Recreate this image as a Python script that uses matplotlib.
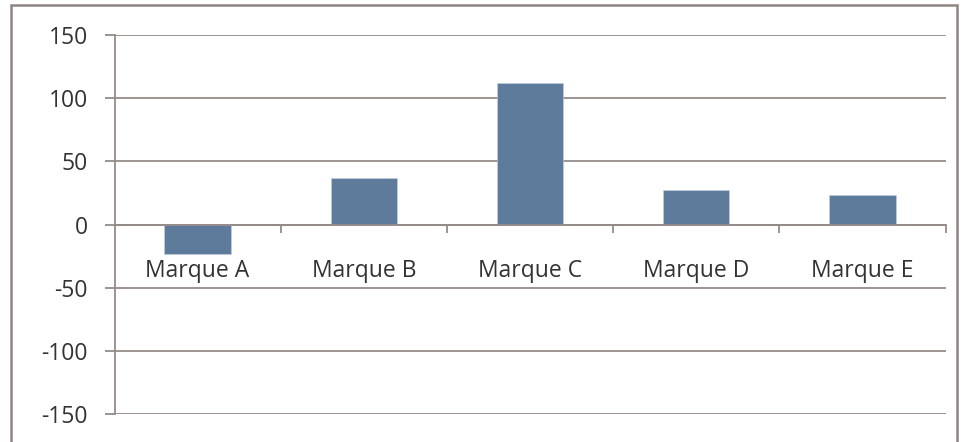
import matplotlib
matplotlib.use("Agg")
import matplotlib.pyplot as plt
from matplotlib.patches import Rectangle
from matplotlib.ticker import FixedLocator, NullFormatter
import numpy as np

categories = ["Marque A", "Marque B", "Marque C", "Marque D", "Marque E"]
values = [-23, 37, 111.5, 27.5, 23]
yticks = [-150, -100, -50, 0, 50, 100, 150]

plt.rcParams['font.family'] = ['Open Sans', 'DejaVu Sans']
W, H = 964, 442
fig = plt.figure(figsize=(W / 100, H / 100), dpi=100)
line_c = '#958b89'
text_c = '#333333'
bar_c = '#5F7B9C'

ax = fig.add_axes([114.5 / W, (H - 414.3) / H, (945.5 - 114.5) / W, (414.3 - 34.7) / H])
x = np.arange(len(categories))
ax.bar(x, values, width=0.4, color=bar_c, edgecolor='#c5d3e3', linewidth=0.4, zorder=3)
ax.set_xlim(-0.5, len(categories) - 0.5)
ax.set_ylim(-150, 150)
ax.set_yticks(yticks)
ax.set_yticklabels([str(v) for v in yticks])
for v in yticks:
    ax.axhline(v, color=line_c, lw=1.3, zorder=1)

for s in ['top', 'right']:
    ax.spines[s].set_visible(False)
ax.spines['left'].set_color(line_c)
ax.spines['left'].set_linewidth(1.3)
ax.spines['bottom'].set_position(('data', 0))
ax.spines['bottom'].set_color(line_c)
ax.spines['bottom'].set_linewidth(1.3)
ax.spines['bottom'].set_zorder(4)

ax.set_xticks(x)
ax.set_xticklabels(categories)
ax.tick_params(axis='x', which='major', length=0, pad=25, labelsize=16.5, labelcolor=text_c)
ax.xaxis.set_minor_locator(FixedLocator(np.arange(0.5, len(categories), 1.0)))
ax.xaxis.set_minor_formatter(NullFormatter())
ax.tick_params(axis='x', which='minor', length=6, width=1.3, color=line_c, direction='out')
ax.tick_params(axis='y', length=7, width=1.3, color=line_c, labelsize=16.5, labelcolor=text_c, pad=12)

fig.patches.append(Rectangle((11 / W, -0.1), (957 - 11) / W, 1.1 - 5 / H,
                             transform=fig.transFigure, fill=False,
                             edgecolor='#8f8583', linewidth=1.8))

fig.savefig('out.png', dpi=100)
